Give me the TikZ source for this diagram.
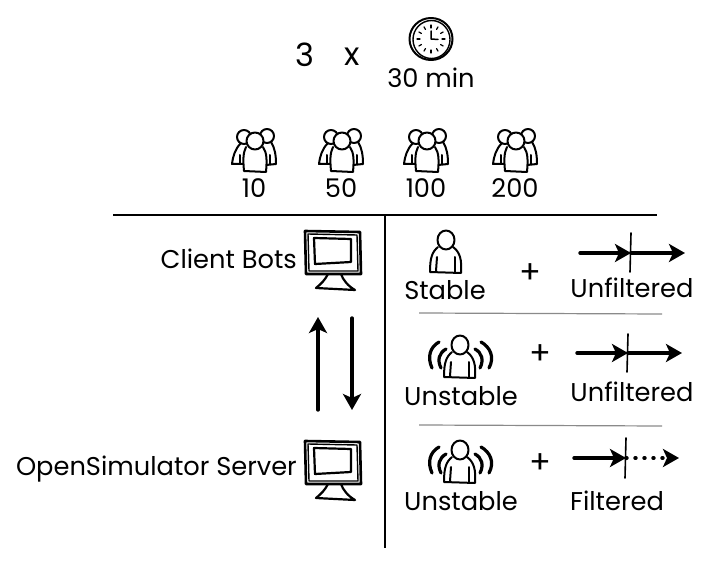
\documentclass[tikz,border=0pt]{standalone}
\usepackage{fontspec}
\setmainfont{Poppins}
\usepackage{xcolor}
\usepackage{tikz}
\usetikzlibrary{arrows.meta, positioning, calc}
\definecolor{sepGray}{HTML}{8A8A8A}

\tikzset{
    sketch/.style={draw=black, line width=2pt, line cap=round, line join=round},
    person/.pic={
        \draw[sketch] (0,-12) ellipse (8.5 and 9.5);
        \draw[sketch] (-8,-5) .. controls (-14,0) and (-16,6) .. (-16,20) -- (15,21)
            .. controls (16,8) and (14,0) .. (7,-5);
        \draw[sketch] (-9,5) -- (-10,19);
        \draw[sketch] (9,5) -- (9,20);
    },
    waves/.pic={
        \draw[sketch, line width=3.2pt] (-21,-15) .. controls (-30,-10) and (-33,0) .. (-28,11);
        \draw[sketch, line width=3.2pt] (-14,-8) .. controls (-21,-4) and (-23,3) .. (-19,11);
        \draw[sketch, line width=3.2pt] (21,-15) .. controls (30,-10) and (35,0) .. (29,11);
        \draw[sketch, line width=3.2pt] (15,-8) .. controls (22,-4) and (24,3) .. (20,11);
    },
    crowd/.pic={
        \draw[sketch] (-10,-13) circle (7);
        \draw[sketch] (13,-14) circle (7);
        \draw[sketch] (-13,-7) .. controls (-19,-1) and (-21,6) .. (-22,14) -- (-10,14);
        \draw[sketch] (17,-8) .. controls (21,-2) and (22,6) .. (22,14) -- (12,15);
        \draw[sketch, fill=white] (-8,-3) .. controls (-11,3) and (-11,10) .. (-10,21)
            -- (12,22) .. controls (13,10) and (13,3) .. (9,-3);
        \draw[sketch, fill=white] (1,-9) circle (8.5);
        \draw[sketch] (-14,5) -- (-14,13);
        \draw[sketch] (16,5) -- (16,14);
    },
    clockface/.pic={
        \draw[sketch] (0,0) ellipse (21.5 and 21);
        \draw[sketch, line width=1.4pt] (0.5,0.5) ellipse (18.5 and 19);
        \foreach \a in {0,30,...,330}
            \draw[sketch, line width=1.2pt] (\a:11) -- (\a:14);
        \draw[sketch, line width=1.5pt] (0,-8) -- (0,0) -- (7,0.5);
    },
    monitor/.pic={
        \draw[sketch, line width=2.6pt] (-28,-21) -- (27,-20) -- (28,22) -- (-27,22) -- cycle;
        \draw[sketch, line width=1.4pt] (-25,-18) -- (24,-17) -- (25,19) -- (-24,19) -- cycle;
        \draw[sketch, line width=2.2pt] (-19,-14) -- (18,-13) -- (18,10) -- (-18,12) -- cycle;
        \draw[sketch, line width=2.2pt] (-5,22) .. controls (-8,28) and (-12,32) .. (-17,36) -- (22,38)
            .. controls (15,34) and (10,28) .. (8,22);
    },
    txt/.style={inner sep=0pt, font=\fontsize{25.7}{30}\selectfont},
    bigtxt/.style={inner sep=0pt, font=\fontsize{32}{36}\selectfont},
    crosshair/.style={line width=1.6pt, line cap=round},
    arrow/.style={-{Stealth[length=16pt, width=18pt, inset=4pt]}, line width=3.4pt, line cap=round},
    dotarrow/.style={-{Stealth[length=16pt, width=18pt, inset=4pt]}, line width=3.4pt, dash pattern=on 1pt off 8pt, line cap=round},
    rule/.style={draw=black, line width=1.6pt},
    sep/.style={draw=sepGray, line width=1.2pt}
}

\begin{document}
\begin{tikzpicture}[x=1pt, y=-1pt]
\useasboundingbox (0,0) rectangle (709,564);

% top line
\node[bigtxt] (rounds) at (305,55) {3};
\node[bigtxt] (times) at (352,57) {x};
\pic at (431,39) {clockface};
\node[txt] (minutes) at (431,78) {30 min};

% crowds
\pic at (254,150) {crowd};
\pic at (341,150) {crowd};
\pic at (426,150) {crowd};
\pic at (515,150) {crowd};
\node[txt] (ten) at (254,188) {10};
\node[txt] (fifty) at (341,188) {50};
\node[txt] (hundred) at (426,188) {100};
\node[txt] (twohundred) at (515,188) {200};

% table lines
\coordinate (hruleL) at (113,215);
\coordinate (hruleR) at (657,215);
\coordinate (vruleT) at (385,215);
\coordinate (vruleB) at (385,548);
\draw[rule] (hruleL) -- (hruleR);
\draw[rule] (vruleT) -- (vruleB);

% left side
\node[txt, anchor=east] (bots) at (297,259) {Client Bots};
\node[txt, anchor=east] (server) at (297,469) {OpenSimulator Server};
\pic at (333,252) {monitor};
\pic at (333,462) {monitor};

\coordinate (upA) at (318,410);
\coordinate (upB) at (318,317);
\coordinate (downA) at (352,318);
\coordinate (downB) at (352,410);
\draw[arrow] (upA) -- (upB);
\draw[arrow] (downA) -- (downB);

% row one
\pic at (446,252) {person};
\node[txt] (stable) at (445,290) {Stable};
\node[bigtxt] (plusOne) at (530,274) {+};
\node[txt] (unfilteredOne) at (632,288) {Unfiltered};
\coordinate (oneA) at (580,253);
\coordinate (oneB) at (631,253);
\coordinate (oneC) at (685,253);
\coordinate (oneT) at (631,233);
\coordinate (oneU) at (630,272);
\draw[arrow] (oneA) -- (oneB);
\draw[arrow] (oneB) -- (oneC);
\draw[crosshair] (oneT) -- (oneU);

\coordinate (sepOneL) at (419,313);
\coordinate (sepOneR) at (662,314);
\draw[sep] (sepOneL) -- (sepOneR);

% row two
\pic at (460,357) {person};
\pic at (460,357) {waves};
\node[txt] (unstableOne) at (461,396) {Unstable};
\node[bigtxt] (plusTwo) at (540,355) {+};
\node[txt] (unfilteredTwo) at (632,392) {Unfiltered};
\coordinate (twoA) at (577,353);
\coordinate (twoB) at (628,353);
\coordinate (twoC) at (682,353);
\coordinate (twoT) at (628,334);
\coordinate (twoU) at (627,372);
\draw[arrow] (twoA) -- (twoB);
\draw[arrow] (twoB) -- (twoC);
\draw[crosshair] (twoT) -- (twoU);

\coordinate (sepTwoL) at (419,425);
\coordinate (sepTwoR) at (662,426);
\draw[sep] (sepTwoL) -- (sepTwoR);

% row three
\pic at (460,462) {person};
\pic at (460,462) {waves};
\node[txt] (unstableTwo) at (461,501) {Unstable};
\node[bigtxt] (plusThree) at (540,464) {+};
\node[txt] (filtered) at (617,501) {Filtered};
\coordinate (threeA) at (574,458);
\coordinate (threeB) at (626,458);
\coordinate (threeC) at (679,458);
\coordinate (threeT) at (626,438);
\coordinate (threeU) at (625,478);
\draw[arrow] (threeA) -- (threeB);
\draw[dotarrow] (threeB) -- (threeC);
\draw[crosshair] (threeT) -- (threeU);

\end{tikzpicture}
\end{document}
